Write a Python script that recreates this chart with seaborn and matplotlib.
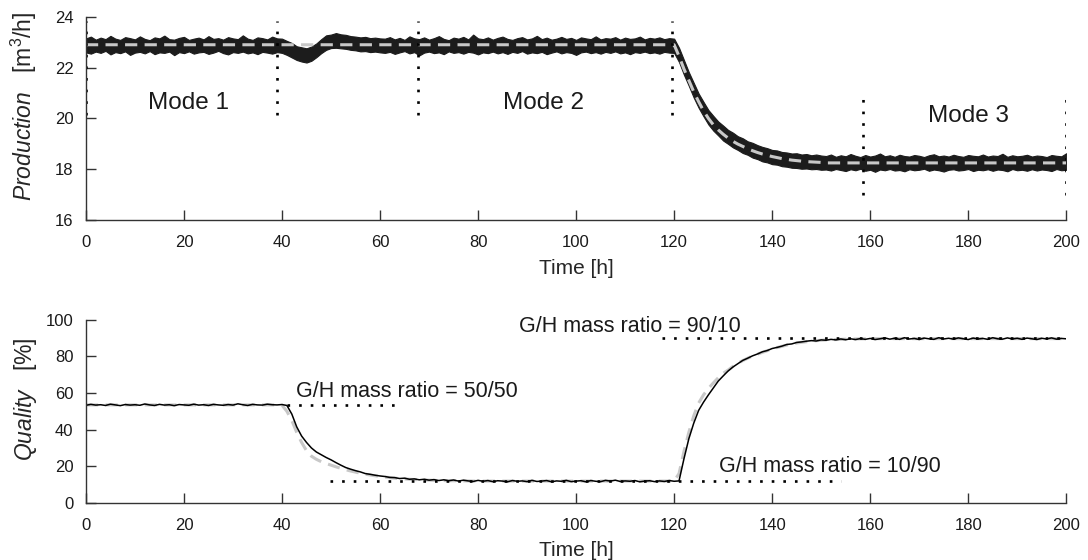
import numpy as np
import pandas as pd
import matplotlib
matplotlib.use("Agg")
import matplotlib.pyplot as plt
import seaborn as sns

# ==== DATA (1 h grid) ====
hours = np.arange(0, 201)

# production: upper / lower edge of the noisy measured band [m3/h]
prod_hi = [
    # 0-39
    23.15, 23.22, 23.10, 23.18, 23.12, 23.25, 23.14, 23.09, 23.20, 23.16,
    23.11, 23.23, 23.13, 23.08, 23.19, 23.15, 23.26, 23.12, 23.10, 23.17,
    23.21, 23.09, 23.14, 23.18, 23.11, 23.24, 23.13, 23.16, 23.10, 23.20,
    23.15, 23.12, 23.27, 23.14, 23.09, 23.19, 23.16, 23.11, 23.22, 23.15,
    # 40-60 (dip)
    23.14, 23.05, 22.97, 22.84, 22.80, 22.76, 22.83, 22.95, 23.12, 23.27,
    23.30, 23.36, 23.31, 23.29, 23.24, 23.22, 23.19, 23.21, 23.16, 23.18, 23.15,
    # 61-119
    23.14, 23.20, 23.11, 23.17, 23.09, 23.23, 23.15, 23.12, 23.19, 23.10,
    23.16, 23.24, 23.13, 23.08, 23.18, 23.14, 23.21, 23.11, 23.30, 23.15,
    23.12, 23.19, 23.10, 23.17, 23.22, 23.13, 23.09, 23.16, 23.20, 23.11,
    23.15, 23.25, 23.12, 23.18, 23.10, 23.14, 23.21, 23.13, 23.17, 23.09,
    23.19, 23.15, 23.12, 23.23, 23.11, 23.16, 23.14, 23.20, 23.10, 23.18,
    23.13, 23.15, 23.22, 23.11, 23.17, 23.14, 23.19, 23.12, 23.16,
    # 120-150 (decay)
    23.14, 22.78, 22.30, 21.82, 21.40, 20.98, 20.65, 20.33, 20.10, 19.88,
    19.72, 19.55, 19.44, 19.30, 19.22, 19.10, 19.04, 18.95, 18.88, 18.83,
    18.76, 18.74, 18.68, 18.66, 18.62, 18.63, 18.58, 18.60, 18.55, 18.58, 18.54,
    # 151-200
    18.52, 18.58, 18.49, 18.55, 18.51, 18.60, 18.53, 18.48, 18.56, 18.50,
    18.54, 18.62, 18.51, 18.55, 18.49, 18.57, 18.52, 18.50, 18.56, 18.53,
    18.48, 18.55, 18.59, 18.51, 18.54, 18.50, 18.57, 18.52, 18.49, 18.56,
    18.53, 18.51, 18.58, 18.50, 18.54, 18.52, 18.61, 18.49, 18.55, 18.51,
    18.53, 18.57, 18.50, 18.54, 18.52, 18.48, 18.56, 18.53, 18.51, 18.63,
]
prod_lo = [
    # 0-39
    22.60, 22.55, 22.63, 22.58, 22.66, 22.52, 22.61, 22.57, 22.64, 22.50,
    22.59, 22.62, 22.56, 22.65, 22.53, 22.60, 22.58, 22.63, 22.49, 22.61,
    22.57, 22.64, 22.55, 22.60, 22.62, 22.54, 22.59, 22.66, 22.57, 22.52,
    22.61, 22.58, 22.63, 22.56, 22.60, 22.53, 22.62, 22.59, 22.55, 22.61,
    # 40-60 (dip)
    22.58, 22.50, 22.40, 22.30, 22.24, 22.20, 22.27, 22.41, 22.57, 22.70,
    22.77, 22.78, 22.76, 22.74, 22.70, 22.68, 22.64, 22.65, 22.61, 22.63, 22.60,
    # 61-119
    22.58, 22.62, 22.54, 22.60, 22.65, 22.56, 22.61, 22.48, 22.59, 22.63,
    22.57, 22.60, 22.53, 22.64, 22.58, 22.61, 22.55, 22.62, 22.59, 22.52,
    22.60, 22.57, 22.63, 22.56, 22.61, 22.54, 22.62, 22.58, 22.65, 22.55,
    22.60, 22.57, 22.62, 22.53, 22.59, 22.64, 22.56, 22.61, 22.58, 22.50,
    22.60, 22.63, 22.57, 22.61, 22.55, 22.62, 22.58, 22.64, 22.56, 22.60,
    22.53, 22.61, 22.58, 22.63, 22.57, 22.60, 22.55, 22.62, 22.59,
    # 120-150 (decay)
    22.58, 22.22, 21.72, 21.28, 20.82, 20.42, 20.08, 19.76, 19.52, 19.33,
    19.13, 19.00, 18.86, 18.76, 18.64, 18.57, 18.46, 18.40, 18.31, 18.27,
    18.20, 18.18, 18.12, 18.10, 18.06, 18.05, 18.02, 18.03, 18.00, 18.01, 17.98,
    # 151-200
    17.99, 17.95, 18.01, 17.97, 17.93, 18.00, 17.96, 18.02, 17.94, 17.98,
    17.90, 17.99, 17.96, 18.01, 17.95, 17.97, 17.92, 18.00, 17.96, 17.98,
    18.02, 17.94, 17.99, 17.96, 17.91, 17.98, 18.00, 17.95, 17.97, 18.01,
    17.93, 17.98, 17.96, 18.00, 17.94, 17.99, 17.97, 17.92, 18.01, 17.96,
    17.98, 17.94, 18.00, 17.95, 17.99, 17.97, 17.93, 18.01, 17.96, 17.98,
]
# production: model prediction (grey dashed)
prod_model = [22.9] * 120 + [
    22.90, 22.45, 21.95, 21.50, 21.05, 20.66, 20.30, 20.00, 19.75, 19.55,
    19.38, 19.23, 19.10, 18.99, 18.90, 18.81, 18.73, 18.66, 18.60, 18.55,
    18.50, 18.46, 18.42, 18.39, 18.36, 18.34, 18.32, 18.30, 18.29, 18.28, 18.27,
] + [18.25] * 50

# quality: measured [%]
quality_meas = [
    # 0-40
    53.3, 53.8, 53.4, 53.6, 53.2, 53.9, 53.5, 53.1, 53.7, 53.4,
    53.6, 53.3, 54.0, 53.5, 53.2, 53.8, 53.4, 53.6, 53.1, 53.7,
    53.5, 53.3, 53.9, 53.4, 53.6, 53.2, 53.8, 53.5, 53.3, 53.7,
    53.4, 54.1, 53.6, 53.2, 53.8, 53.5, 53.4, 53.9, 53.6, 53.5, 53.7,
    # 41-60
    53.2, 48.5, 41.5, 36.5, 33.0, 30.0, 27.8, 26.3, 24.8, 23.5,
    22.0, 20.6, 19.3, 18.4, 17.6, 16.9, 16.0, 15.6, 15.1, 14.7,
    # 61-120
    14.4, 13.9, 13.8, 13.3, 13.5, 12.9, 13.1, 12.6, 12.9, 12.4,
    12.7, 12.2, 12.6, 12.1, 12.5, 11.9, 12.4, 12.0, 11.7, 12.3,
    11.8, 12.2, 11.6, 12.1, 11.9, 11.5, 12.2, 11.8, 12.0, 11.6,
    12.3, 11.7, 11.9, 12.2, 11.5, 12.0, 11.8, 12.3, 11.6, 11.9,
    12.1, 11.5, 12.2, 11.8, 11.6, 12.3, 11.9, 12.4, 11.7, 12.0,
    11.8, 12.2, 11.5, 11.9, 12.1, 11.6, 12.0, 11.7, 12.2, 11.8,
    # 121-200
    12.0, 24.0, 35.0, 43.5, 50.5, 55.0, 59.0, 62.8, 66.5, 69.3,
    72.0, 74.2, 76.0, 77.8, 79.0, 80.3, 81.3, 82.5, 83.2, 84.3,
    84.9, 85.6, 86.5, 86.8, 87.6, 87.9, 88.3, 88.6, 88.4, 89.0,
    88.8, 89.3, 89.0, 89.5, 89.1, 89.6, 89.2, 89.7, 89.3, 89.8,
    89.2, 89.6, 90.1, 89.4, 89.9, 89.3, 90.2, 89.5, 89.8, 89.2,
    90.0, 89.6, 89.3, 90.2, 89.5, 89.9, 89.4, 90.1, 89.6, 89.2,
    90.0, 89.5, 89.8, 89.3, 90.2, 89.6, 89.4, 90.1, 89.5, 89.9,
    89.3, 90.0, 89.6, 89.2, 89.9, 89.5, 90.1, 89.4, 89.8, 89.6,
]
# quality: model prediction (grey dashed)
quality_model = [53.5] * 40 + [
    53.3, 50.0, 45.0, 38.5, 33.0, 28.5, 25.5, 23.8, 22.5, 21.5,
    20.6, 19.7, 18.9, 18.1, 17.4, 16.8, 16.2, 15.7, 15.2, 14.8, 14.4,
    14.1, 13.8, 13.5, 13.3, 13.1, 12.9, 12.7, 12.6, 12.5, 12.4,
    12.3, 12.2, 12.2, 12.1, 12.1, 12.0, 12.0, 12.0, 11.9, 11.9,
] + [11.9] * 40 + [
    16.0, 28.0, 38.5, 47.5, 54.5, 59.0, 62.5, 65.5, 68.3, 70.8,
    72.5, 74.5, 76.2, 77.7, 79.0, 80.2, 81.2, 82.2, 83.1, 84.0,
    84.8, 85.5, 86.2, 86.8, 87.3, 87.7, 88.0, 88.3, 88.6, 88.8,
    89.0, 89.1, 89.2, 89.3, 89.4, 89.5, 89.5, 89.6, 89.6, 89.6,
] + [89.7] * 40

# mode boundaries (dotted verticals in the production panel)
mode_t = [0, 39, 67.8, 119.6, 158.6, 200]
mode_lo = [20.15, 20.15, 20.15, 20.15, 17.0, 17.0]
mode_hi = [23.85, 23.85, 23.85, 23.85, 20.75, 20.75]
mode_labels = ["Mode 1", "Mode 2", "Mode 3"]
mode_label_t = [21, 93.3, 180]
mode_label_y = [20.6, 20.6, 20.1]

# G/H mass ratio set points (dotted horizontals in the quality panel)
ratio_labels = ["G/H mass ratio = 50/50", "G/H mass ratio = 10/90", "G/H mass ratio = 90/10"]
ratio_level = [53.6, 12.0, 89.8]
ratio_start = [41, 49.8, 117.5]
ratio_end = [64, 154, 200]
ratio_text_t = [42.8, 129.2, 88.4]
ratio_text_y = [60.7, 19.7, 96.5]

for arr in (prod_hi, prod_lo, prod_model, quality_meas, quality_model):
    assert len(arr) == len(hours), len(arr)

df = pd.DataFrame({
    "t": hours, "prod_hi": prod_hi, "prod_lo": prod_lo, "prod_model": prod_model,
    "q_meas": quality_meas, "q_model": quality_model,
})

# ==== STYLE ====
sns.set_style("ticks")
plt.rcParams["font.family"] = ["Liberation Sans", "DejaVu Sans"]
plt.rcParams["mathtext.fontset"] = "custom"
plt.rcParams["mathtext.rm"] = "Liberation Sans"
plt.rcParams["mathtext.it"] = "Liberation Sans:italic"
plt.rcParams["text.color"] = "#1a1a1a"

grey = "#c8c8c8"
dash = (0, (4.0, 2.4))
dots = (0, (1, 3.4))

fig = plt.figure(figsize=(10.88, 5.6), dpi=100)
ax1 = fig.add_axes([0.079, 0.607, 0.901, 0.363])
ax2 = fig.add_axes([0.079, 0.102, 0.901, 0.327])

# ---- production ----
ax1.fill_between(df["t"], df["prod_lo"], df["prod_hi"],
                 color="#1c1c1c", lw=0.8, edgecolor="#1c1c1c")
sns.lineplot(data=df, x="t", y="prod_model", ax=ax1, color=grey, lw=2.2, linestyle=dash)
ax1.vlines(mode_t, mode_lo, mode_hi, colors="black", linestyles=dots, lw=1.9)
for lab, tx, ty in zip(mode_labels, mode_label_t, mode_label_y):
    ax1.text(tx, ty, lab, ha="center", va="center", fontsize=17.5)
ax1.set_ylim(16, 24)
ax1.set_yticks([16, 18, 20, 22, 24])
ax1.set_ylabel(r"$\mathit{Production}$   [m$^3$/h]", fontsize=16.5)

# ---- quality ----
sns.lineplot(data=df, x="t", y="q_model", ax=ax2, color=grey, lw=2.2, linestyle=dash)
sns.lineplot(data=df, x="t", y="q_meas", ax=ax2, color="black", lw=1.1)
ax2.hlines(ratio_level, ratio_start, ratio_end, colors="black", linestyles=dots, lw=1.9)
for lab, tx, ty in zip(ratio_labels, ratio_text_t, ratio_text_y):
    ax2.text(tx, ty, lab, ha="left", va="center", fontsize=15.5)
ax2.set_ylim(0, 100)
ax2.set_yticks([0, 20, 40, 60, 80, 100])
ax2.set_ylabel(r"$\mathit{Quality}$   [%]", fontsize=16.5)

for ax, ly in ((ax1, 0.56), (ax2, 0.565)):
    ax.set_xlim(0, 200)
    ax.set_xticks(range(0, 201, 20))
    ax.set_xlabel("Time [h]", fontsize=15, labelpad=6)
    ax.tick_params(direction="in", length=7, width=1, labelsize=12, colors="#333333",
                   labelcolor="#1a1a1a")
    ax.tick_params(axis="x", pad=11)
    ax.tick_params(axis="y", pad=9)
    ax.yaxis.set_label_coords(-0.048, ly)
    sns.despine(ax=ax)
    for s in ("left", "bottom"):
        ax.spines[s].set_color("#333333")
        ax.spines[s].set_linewidth(1)

fig.savefig("out.png", dpi=100)
